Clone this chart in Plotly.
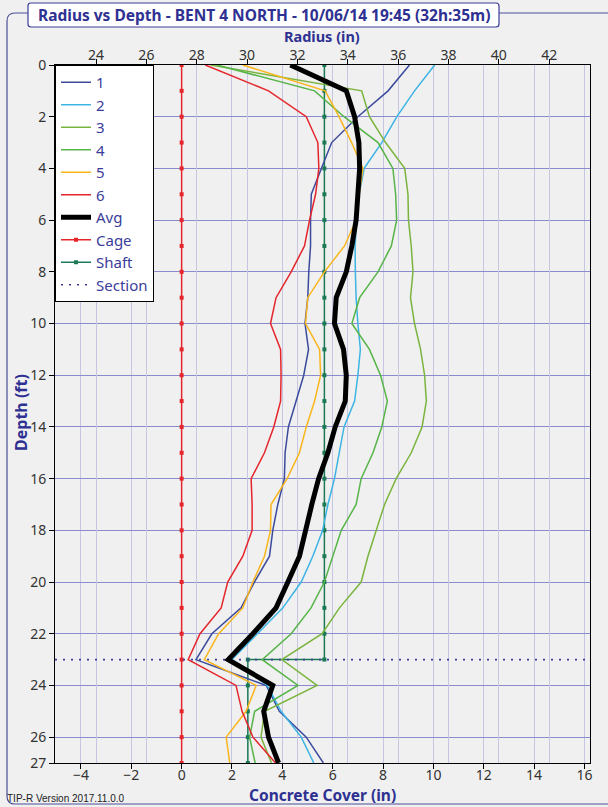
import plotly.graph_objects as go

# ---------------- data ----------------
depth = list(range(0, 28))  # ft

r1 = [36.45, 35.6, 34.4, 33.36, 32.95, 32.55, 32.52, 32.52, 32.45, 32.41, 32.3, 32.44, 32.25, 31.95,
      31.64, 31.51, 31.48, 31.22, 31.02, 30.89, 30.29, 29.76, 28.6, 27.97, 30.76, 31.28, 32.35, 33.03]
r2 = [37.45, 36.65, 35.95, 35.35, 34.65, 34.45, 34.35, 34.29, 34.3, 34.33, 34.4, 34.5, 34.4, 34.27,
      33.85, 33.67, 33.47, 33.21, 33.0, 32.61, 32.15, 31.42, 30.43, 29.4, 30.8, 31.35, 32.15, 32.65]
r3 = [28.55, 34.55, 34.86, 35.5, 36.26, 36.39, 36.41, 36.52, 36.59, 36.49, 36.65, 36.89, 37.05, 37.12,
      36.95, 36.52, 35.92, 35.46, 35.13, 34.8, 34.53, 33.67, 32.98, 31.38, 32.78, 30.7, 30.55, 30.97]
r4 = [28.8, 32.68, 33.85, 35.2, 35.79, 35.9, 35.94, 35.73, 35.2, 34.47, 34.16, 34.86, 35.3, 35.57,
      35.35, 35.0, 34.53, 34.33, 33.74, 33.41, 33.07, 32.54, 31.75, 30.6, 32.02, 30.3, 30.1, 30.32]
r5 = [29.83, 33.1, 33.65, 34.15, 34.6, 34.45, 34.33, 33.87, 33.07, 32.41, 32.32, 32.88, 32.92, 32.68,
      32.35, 32.08, 31.59, 30.95, 30.93, 30.69, 30.23, 29.83, 28.87, 28.3, 30.36, 29.96, 29.17, 29.31]
r6 = [28.34, 30.85, 32.35, 32.81, 32.85, 32.72, 32.48, 32.28, 31.75, 31.15, 30.93, 31.33, 31.35, 31.33,
      31.06, 30.69, 30.16, 30.2, 30.2, 29.83, 29.23, 28.97, 28.13, 27.66, 29.56, 29.8, 30.23, 31.13]
r_avg = [31.72, 33.94, 34.27, 34.44, 34.47, 34.4, 34.33, 34.16, 33.94, 33.54, 33.47, 33.83, 33.94, 33.9,
         33.5, 33.21, 32.84, 32.57, 32.35, 32.08, 31.62, 31.15, 30.23, 29.25, 31.02, 30.66, 30.85, 31.25]

series_names = ["1", "2", "3", "4", "5", "6"]
series_values = [r1, r2, r3, r4, r5, r6]
series_colors = ["#3c4a9c", "#3cb4e4", "#7ab43e", "#56b448", "#f9b51c", "#e4262c"]

cage_radius = 27.4            # radius where concrete cover = 0
shaft_radius_upper = 33.07    # shaft radius above the section
shaft_radius_lower = 30.03    # shaft radius below the section
section_depth = 23

radius_ticks = [24, 26, 28, 30, 32, 34, 36, 38, 40, 42]
cover_ticks = [-4, -2, 0, 2, 4, 6, 8, 10, 12, 14, 16]
depth_ticks = [0, 2, 4, 6, 8, 10, 12, 14, 16, 18, 20, 22, 24, 26, 27]

radius_range = [22.37, 43.62]
cover_range = [radius_range[0] - cage_radius, radius_range[1] - cage_radius]

title_text = "Radius vs Depth - BENT 4 NORTH - 10/06/14 19:45 (32h:35m)"

# ---------------- derived lists ----------------
cage_cover = [0 for _ in depth]
shaft_depth = [d for d in depth if d <= section_depth] + [d for d in depth if d >= section_depth]
shaft_radius = ([shaft_radius_upper for d in depth if d <= section_depth] +
                [shaft_radius_lower for d in depth if d >= section_depth])

# ---------------- figure ----------------
W, H = 608, 807
ML, MR, MT, MB = 55, 18, 65, 44
PW, PH = W - ML - MR, H - MT - MB


def X(px):
    return (px - ML) / PW


def Y(py):
    return (H - MB - py) / PH


TXT = "#2e3192"
FONT = "Noto Sans"

fig = go.Figure()

fig.add_trace(go.Scatter(x=cage_cover, y=depth, xaxis="x", yaxis="y", name="Cage",
                         mode="lines+markers", line=dict(color="#e4262c", width=1.5),
                         marker=dict(symbol="square", size=4, color="#e4262c"), legendrank=8))
fig.add_trace(go.Scatter(x=shaft_radius, y=shaft_depth, xaxis="x2", yaxis="y", name="Shaft",
                         mode="lines+markers", line=dict(color="#1b7a55", width=1.5),
                         marker=dict(symbol="square", size=4, color="#1b7a55"), legendrank=9))
fig.add_trace(go.Scatter(x=radius_range, y=[section_depth, section_depth], xaxis="x2", yaxis="y",
                         name="Section", mode="lines",
                         line=dict(color="#3a3d9a", width=1.6, dash="2px,6px"), legendrank=10))

for i, (nm, vals, col) in enumerate(zip(series_names, series_values, series_colors)):
    fig.add_trace(go.Scatter(x=vals, y=depth, xaxis="x2", yaxis="y", name=nm, mode="lines",
                             line=dict(color=col, width=1.5), legendrank=i + 1))

fig.add_trace(go.Scatter(x=r_avg, y=depth, xaxis="x2", yaxis="y", name="Avg", mode="lines",
                         line=dict(color="black", width=5), legendrank=7))

axis_common = dict(ticks="outside", ticklen=5, tickcolor="black", showline=True, linecolor="black",
                   linewidth=1, showgrid=True, zeroline=False,
                   tickfont=dict(family=FONT, size=14, color="#333333"))

fig.update_layout(
    width=W, height=H,
    margin=dict(l=ML, r=MR, t=MT, b=MB, pad=0),
    paper_bgcolor="#f0f0f0", plot_bgcolor="#f0f0f0",
    xaxis=dict(range=cover_range, tickvals=cover_ticks, side="bottom", gridcolor="#c6c6e2",
               gridwidth=1, ticklabelstandoff=-6, **axis_common),
    xaxis2=dict(range=radius_range, tickvals=radius_ticks, side="top", overlaying="x", anchor="y",
                gridcolor="#c6c6e2", gridwidth=1, ticklabelstandoff=-7, **axis_common),
    yaxis=dict(range=[27, 0], tickvals=depth_ticks, mirror=True, gridcolor="#8a8acc", gridwidth=1,
               **axis_common),
    showlegend=True,
    legend=dict(x=0, y=1, xanchor="left", yanchor="top", bgcolor="white", bordercolor="black",
                borderwidth=1, font=dict(family=FONT, size=15, color="#3a3d9a"),
                tracegroupgap=0, itemwidth=30, traceorder="normal"),
)

# outer rounded frame
frame_path = (f"M {X(7)},{Y(21)} Q {X(7)},{Y(13)} {X(15)},{Y(13)} L {X(620)},{Y(13)} "
              f"L {X(620)},{Y(804)} L {X(15)},{Y(804)} Q {X(7)},{Y(804)} {X(7)},{Y(796)} Z")
title_path = (f"M {X(28)},{Y(6)} Q {X(28)},{Y(3)} {X(31)},{Y(3)} L {X(496)},{Y(3)} "
              f"Q {X(499)},{Y(3)} {X(499)},{Y(6)} L {X(499)},{Y(24)} Q {X(499)},{Y(27)} {X(496)},{Y(27)} "
              f"L {X(31)},{Y(27)} Q {X(28)},{Y(27)} {X(28)},{Y(24)} Z")
fig.add_shape(type="path", path=frame_path, xref="paper", yref="paper",
              line=dict(color="#4a4f98", width=1.2), layer="below")
fig.add_shape(type="path", path=title_path, xref="paper", yref="paper",
              line=dict(color="#3a3d9a", width=1.2), fillcolor="white", layer="above")

ann_font = dict(family=FONT, size=14.5, color=TXT, weight="bold")
common_ann = dict(xref="paper", yref="paper", showarrow=False, xanchor="center", yanchor="middle")
fig.add_annotation(text=title_text, x=X(263.5), y=Y(15),
                   font=dict(family=FONT, size=15.5, color=TXT, weight="bold"), **common_ann)
fig.add_annotation(text="Radius (in)", x=X(322), y=Y(36), font=ann_font, **common_ann)
fig.add_annotation(text="Concrete Cover (in)", x=X(322), y=Y(795),
                   font=dict(family=FONT, size=15.5, color=TXT, weight="bold"), **common_ann)
fig.add_annotation(text="Depth (ft)", x=X(21), y=Y(413), textangle=-90,
                   font=dict(family=FONT, size=16, color=TXT, weight="bold"), **common_ann)
fig.add_annotation(text="TIP-R Version 2017.11.0.0", x=X(5), y=Y(798), xref="paper", yref="paper",
                   xanchor="left", yanchor="middle", showarrow=False,
                   font=dict(family="Liberation Sans", size=10, color="#222222"))

fig.write_html("out.html")
